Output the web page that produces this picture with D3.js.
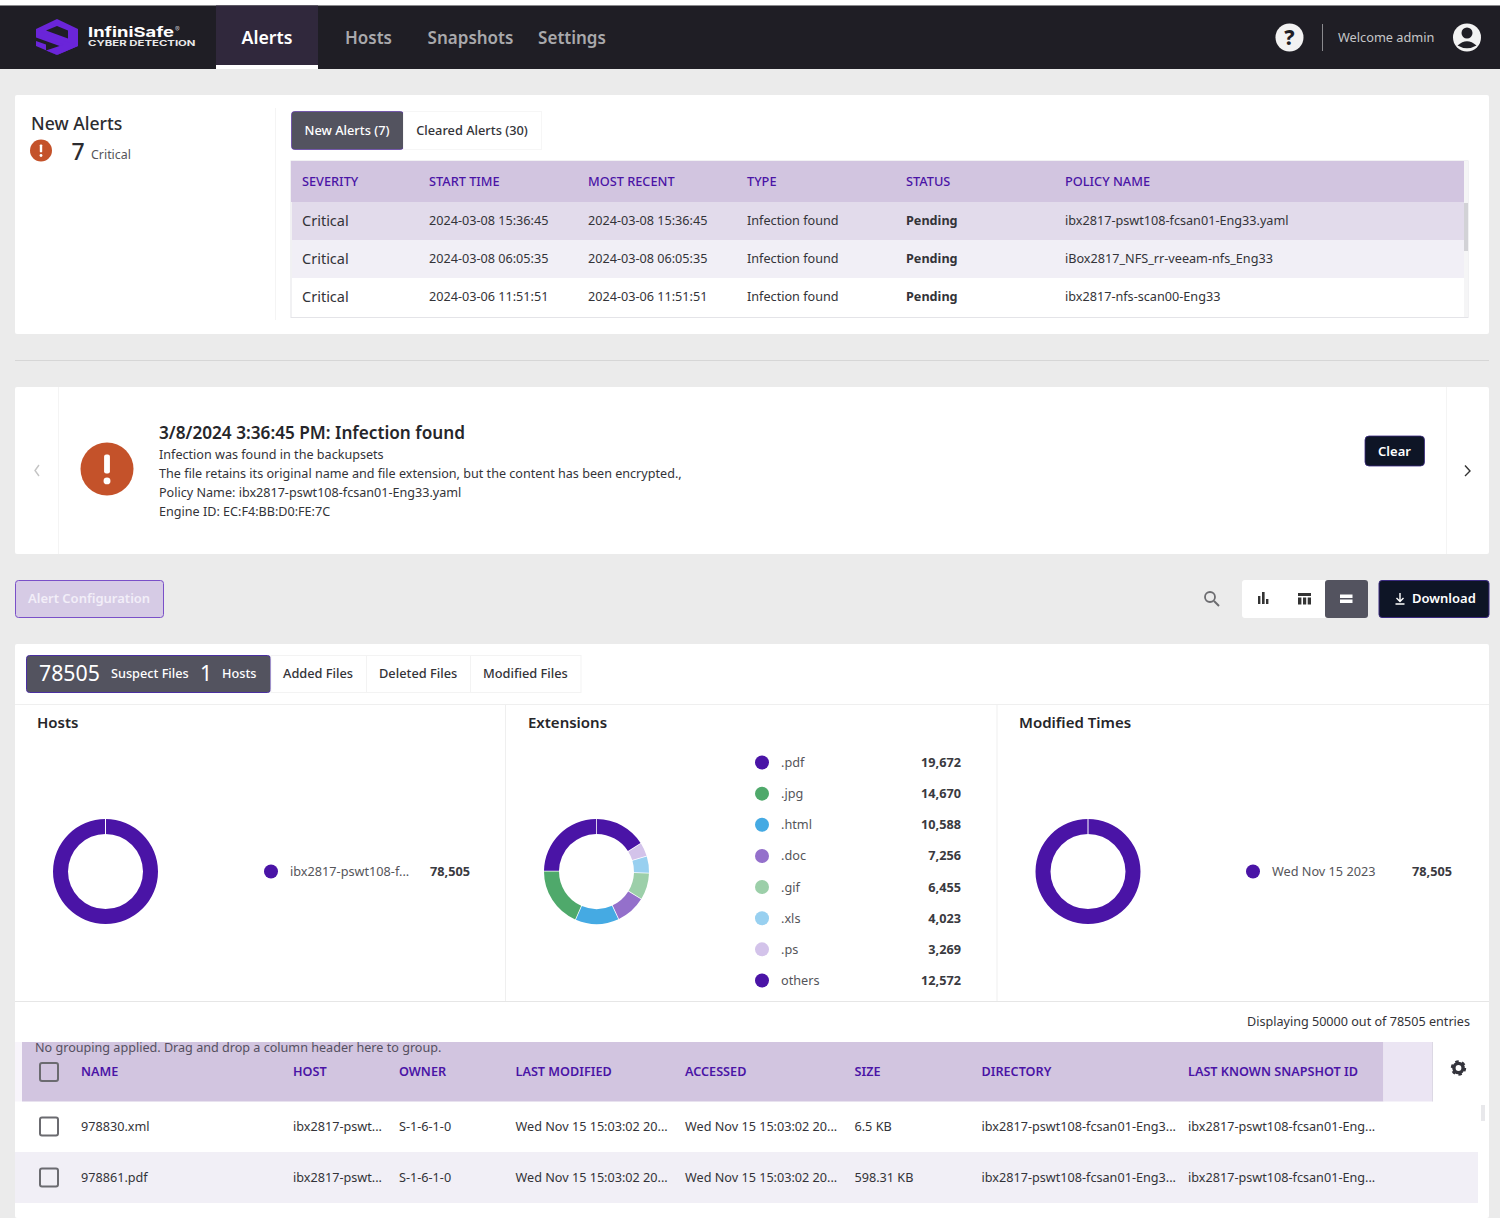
<!DOCTYPE html>
<html>
<head>
<meta charset="utf-8">
<script src="https://cdn.jsdelivr.net/npm/d3@7"></script>
<style>
html, body { margin: 0; padding: 0; background: #ebebeb; }
svg { display: block; font-family: "Noto Sans", "Open Sans", sans-serif; }
</style>
</head>
<body>
<svg id="page" width="1500" height="1218"></svg>
<script>
// nav
const navItems = ["Alerts", "Hosts", "Snapshots", "Settings"];

// alert table
const alertColumns = ["SEVERITY", "START TIME", "MOST RECENT", "TYPE", "STATUS", "POLICY NAME"];
const alertRows = [
  ["Critical", "2024-03-08 15:36:45", "2024-03-08 15:36:45", "Infection found", "Pending", "ibx2817-pswt108-fcsan01-Eng33.yaml"],
  ["Critical", "2024-03-08 06:05:35", "2024-03-08 06:05:35", "Infection found", "Pending", "iBox2817_NFS_rr-veeam-nfs_Eng33"],
  ["Critical", "2024-03-06 11:51:51", "2024-03-06 11:51:51", "Infection found", "Pending", "ibx2817-nfs-scan00-Eng33"]
];
const alertDetail = [
  "Infection was found in the backupsets",
  "The file retains its original name and file extension, but the content has been encrypted.,",
  "Policy Name: ibx2817-pswt108-fcsan01-Eng33.yaml",
  "Engine ID: EC:F4:BB:D0:FE:7C"
];

// donuts
const hostNames = ["ibx2817-pswt108-f..."];
const hostValues = [78505];
const extNames = [".pdf", ".jpg", ".html", ".doc", ".gif", ".xls", ".ps", "others"];
const extValues = [19672, 14670, 10588, 7256, 6455, 4023, 3269, 12572];
const timeNames = ["Wed Nov 15 2023"];
const timeValues = [78505];

// file table
const fileColumns = ["NAME", "HOST", "OWNER", "LAST MODIFIED", "ACCESSED", "SIZE", "DIRECTORY", "LAST KNOWN SNAPSHOT ID"];
const fileRows = [
  ["978830.xml", "ibx2817-pswt...", "S-1-6-1-0", "Wed Nov 15 15:03:02 20...", "Wed Nov 15 15:03:02 20...", "6.5 KB", "ibx2817-pswt108-fcsan01-Eng3...", "ibx2817-pswt108-fcsan01-Eng..."],
  ["978861.pdf", "ibx2817-pswt...", "S-1-6-1-0", "Wed Nov 15 15:03:02 20...", "Wed Nov 15 15:03:02 20...", "598.31 KB", "ibx2817-pswt108-fcsan01-Eng3...", "ibx2817-pswt108-fcsan01-Eng..."]
];

const PURPLE = "#4a14a6", INK = "#333338", HEAD = "#d2c5e0", SLATE = "#53535f";
const extColors = ["#4a14a6", "#4fa96b", "#45aae3", "#9470cb", "#9ccfa9", "#98d0f0", "#d3c3ea", "#4a14a6"];

const svg = d3.select("#page");

function rect(x, y, w, h, fill, r) {
  return svg.append("rect").attr("x", x).attr("y", y).attr("width", w).attr("height", h)
    .attr("fill", fill).attr("rx", r || 0);
}
function label(x, y, s, size, fill, weight, anchor) {
  return svg.append("text").attr("x", x).attr("y", y).attr("dy", "0.35em")
    .attr("font-size", size).attr("fill", fill || INK).attr("font-weight", weight || 400)
    .attr("text-anchor", anchor || "start").text(s);
}
function alertIcon(cx, cy, r) {
  svg.append("circle").attr("cx", cx).attr("cy", cy).attr("r", r).attr("fill", "#c4522a");
  rect(cx - r * 0.11, cy - r * 0.55, r * 0.22, r * 0.72, "#fff", r * 0.08);
  svg.append("circle").attr("cx", cx).attr("cy", cy + r * 0.45).attr("r", r * 0.13).attr("fill", "#fff");
}
function checkbox(x, y) {
  rect(x, y, 18, 18, "none", 2).attr("stroke", "#6b6b70").attr("stroke-width", 2);
}

// nav bar
rect(0, 0, 1500, 5.5, "#fff");
rect(0, 5.5, 1500, 63.5, "#1f1e25");
rect(216, 5.5, 102, 63.5, "#30283c");
rect(216, 65, 102, 4, "#fff");

const navX = d3.scaleOrdinal().domain(navItems).range([267, 368.5, 470.5, 572]);
svg.append("g").selectAll("text").data(navItems).join("text")
  .attr("x", d => navX(d)).attr("y", (d, i) => i === 0 ? 37.5 : 38.3).attr("dy", "0.35em").attr("text-anchor", "middle")
  .attr("font-size", (d, i) => i === 0 ? 17.7 : 17).attr("font-weight", 600)
  .attr("fill", (d, i) => i === 0 ? "#fff" : "#a9a9ac").text(d => d);

// logo
svg.append("path").attr("d", "M57 19 L78 29 L78 46 L57 55 L36 46 L36 29 Z").attr("fill", "#6a25d9");
svg.append("path").attr("d", "M46 30.5 L57 26 L68 30.5 L68 38.5 Z").attr("fill", "#1f1e25");
svg.append("path").attr("d", "M36 37.5 L68 49 L57 55 L46 50.5 L46 44.5 L36 41 Z").attr("fill", "#1f1e25");
svg.append("path").attr("d", "M36 30 L46 34 L78 46 L57 55 L46 50.5 L64 44.5 L36 36 Z").attr("fill", "#6a25d9");
label(88, 32.5, "InfiniSafe", 13.5, "#fff", 700).attr("font-family", "Inter")
  .attr("textLength", 86).attr("lengthAdjust", "spacingAndGlyphs");
label(175, 29.5, "®", 7, "#bdbdbd", 400).attr("font-family", "Inter");
label(88, 43.5, "CYBER DETECTION", 8, "#e8e8e8", 700).attr("font-family", "Inter")
  .attr("textLength", 107.5).attr("lengthAdjust", "spacingAndGlyphs");

// help, user
svg.append("circle").attr("cx", 1289.5).attr("cy", 37.5).attr("r", 14).attr("fill", "#f2f2f2");
label(1289.5, 37.5, "?", 21, "#1f1e25", 800, "middle");
rect(1322, 24, 1, 27, "#8a8a8e");
label(1338, 37.5, "Welcome admin", 12.75, "#c6c6c8");
svg.append("circle").attr("cx", 1467).attr("cy", 37.5).attr("r", 14).attr("fill", "#f2f2f2");
svg.append("circle").attr("cx", 1467).attr("cy", 33).attr("r", 5.5).attr("fill", "#1f1e25");
svg.append("path").attr("d", "M1457.5 45.5 Q1467 37 1476.5 45.5 Q1467 51 1457.5 45.5 Z").attr("fill", "#1f1e25");

// new alerts panel
rect(15, 95, 1474, 239, "#fff", 2);
rect(275, 108, 1, 212, "#f4f4f4");
label(31, 124, "New Alerts", 17.6, "#2c2c30", 500);
alertIcon(41, 150.5, 11);
label(71.5, 151.5, "7", 23, "#2c2c30", 500);
label(91, 154.5, "Critical", 12.4, "#55555a");

rect(291.5, 111.5, 112, 38, SLATE, 3).attr("stroke", "#5b35a8").attr("stroke-width", 0.7);
label(347, 130.5, "New Alerts (7)", 12.8, "#fff", 500, "middle");
rect(403.5, 111.5, 138, 38, "#fff").attr("stroke", "#f6f6f6");
label(472, 130.5, "Cleared Alerts (30)", 12.8, "#333338", 500, "middle");

rect(291, 161, 1177, 156.5, "#fff").attr("stroke", "#e4e4e8");
rect(291, 161, 1173, 41, HEAD);
const alertX = d3.scaleOrdinal().domain(alertColumns).range([302, 429, 588, 747, 906, 1065]);
svg.append("g").selectAll("text").data(alertColumns).join("text")
  .attr("x", d => alertX(d)).attr("y", 181.5).attr("dy", "0.35em")
  .attr("font-size", 12.75).attr("font-weight", 500).attr("fill", PURPLE).text(d => d);

const alertRowY = d3.scalePoint().domain(d3.range(alertRows.length)).range([221, 297]);
const alertRowFill = ["#e2dbeb", "#f1eff6", "#fff"];
svg.append("g").selectAll("rect").data(alertRows).join("rect")
  .attr("x", 292).attr("width", 1172).attr("height", 38)
  .attr("y", (d, i) => alertRowY(i) - 19).attr("fill", (d, i) => alertRowFill[i]);
alertRows.forEach((row, i) => {
  svg.append("g").selectAll("text").data(row).join("text")
    .attr("x", (d, j) => alertX(alertColumns[j])).attr("y", alertRowY(i)).attr("dy", "0.35em")
    .attr("font-size", (d, j) => j === 0 ? 14.5 : 12.65)
    .attr("font-weight", (d, j) => j === 4 ? 700 : 400)
    .attr("fill", INK).text(d => d);
});
// scrollbar
rect(1464, 161, 4, 156, "#f5f5f6");
rect(1464, 203, 4, 48, "#d2d2d6");

rect(15, 360, 1474, 1, "#d6d6d6");

// alert detail panel
rect(15, 387, 1474, 167, "#fff", 2);
rect(58, 387, 1, 167, "#f4f4f4");
rect(1446, 387, 1, 167, "#f4f4f4");
svg.append("path").attr("d", "M39 465 L35 470.5 L39 476").attr("fill", "none").attr("stroke", "#c4c4c4").attr("stroke-width", 1.4);
svg.append("path").attr("d", "M1465 465.5 L1470 471 L1465 476").attr("fill", "none").attr("stroke", "#333").attr("stroke-width", 1.4);
alertIcon(107, 469, 26.5);
label(159, 433, "3/8/2024 3:36:45 PM: Infection found", 17.2, "#26262a", 600);
const detailY = d3.scalePoint().domain(d3.range(alertDetail.length)).range([454.5, 511.5]);
svg.append("g").selectAll("text").data(alertDetail).join("text")
  .attr("x", 159).attr("y", (d, i) => detailY(i)).attr("dy", "0.35em")
  .attr("font-size", 12.6).attr("fill", INK).text(d => d);
rect(1365, 436, 59.5, 30, "#0e1526", 4).attr("stroke", "#3a2a80").attr("stroke-width", 0.8);
label(1394.5, 451, "Clear", 13, "#fff", 600, "middle");

// toolbar
rect(15.5, 580.5, 148, 37, "#d6cbe5", 3).attr("stroke", "#7a50c8");
label(28, 598.5, "Alert Configuration", 13, "#f2eef8", 600);
svg.append("circle").attr("cx", 1210).attr("cy", 597).attr("r", 5).attr("fill", "none").attr("stroke", "#6c6c70").attr("stroke-width", 1.8);
svg.append("path").attr("d", "M1214 601 L1219 606").attr("stroke", "#6c6c70").attr("stroke-width", 2);
rect(1242, 580, 126, 38, "#fff", 3);
rect(1325, 580, 43, 38, SLATE, 3);
rect(1258, 596, 2.4, 8, "#333");
rect(1262, 592, 2.6, 12, "#333");
rect(1266, 599, 2.4, 5, "#333");
rect(1298, 593, 13, 3, "#333");
rect(1298, 597.5, 3.4, 7, "#333");
rect(1303, 597.5, 3.2, 7, "#333");
rect(1307.7, 597.5, 3.3, 7, "#333");
rect(1340, 594.5, 12.5, 3.5, "#fff");
rect(1340, 599.5, 12.5, 3.5, "#fff");
rect(1379, 580.5, 110, 37, "#0e1526", 3).attr("stroke", "#3a2a80");
svg.append("path").attr("d", "M1400 593 L1400 601 M1396.5 598 L1400 601.5 L1403.5 598 M1395.5 604 L1404.5 604")
  .attr("fill", "none").attr("stroke", "#fff").attr("stroke-width", 1.4);
label(1412, 598.5, "Download", 13, "#fff", 600);

// suspect files panel
rect(15, 644, 1474, 574, "#fff", 2);
rect(15, 704, 1474, 1, "#efefef");
rect(505, 705, 1, 296, "#efefef");
rect(996.5, 705, 1, 296, "#efefef");
rect(15, 1001, 1474, 1, "#e6e6e6");

rect(26.5, 655.5, 244, 37, SLATE, 3).attr("stroke", "#4a2fa0");
label(39, 674, "78505", 21.3, "#fff", 400);
label(111, 673.5, "Suspect Files", 12.7, "#fff", 500);
label(200, 674, "1", 21.3, "#fff", 400);
label(222, 673.5, "Hosts", 12.7, "#fff", 500);
rect(271, 655.5, 310, 37, "#fff").attr("stroke", "#f3f3f3");
rect(366, 656, 1, 36, "#f3f3f3");
rect(470, 656, 1, 36, "#f3f3f3");
label(283, 673.5, "Added Files", 12.8, INK, 500);
label(379, 673.5, "Deleted Files", 12.8, INK, 500);
label(483, 673.5, "Modified Files", 12.8, INK, 500);

label(37, 723, "Hosts", 15, "#26262a", 600);
label(528, 723, "Extensions", 15, "#26262a", 600);
label(1019, 723, "Modified Times", 15, "#26262a", 600);

function donut(cx, cy, names, values, colors) {
  // clockwise from 12 o'clock, last entry first
  const pie = d3.pie().sort(null).padAngle(0.012)(values.slice().reverse());
  const arc = d3.arc().innerRadius(37.5).outerRadius(52.5);
  svg.append("g").attr("transform", `translate(${cx},${cy})`)
    .selectAll("path").data(pie).join("path")
    .attr("d", arc).attr("fill", (d, i) => colors[values.length - 1 - i]);
  if (values.length === 1) {
    rect(cx - 0.5, cy - 53, 1, 15.5, "#fff");
  }
}
function legend(dotX, nameX, valueX, yScale, names, values, colors) {
  const g = svg.append("g");
  g.selectAll("circle").data(names).join("circle")
    .attr("cx", dotX).attr("cy", (d, i) => yScale(i)).attr("r", 7).attr("fill", (d, i) => colors[i]);
  g.selectAll("text.name").data(names).join("text").attr("class", "name")
    .attr("x", nameX).attr("y", (d, i) => yScale(i)).attr("dy", "0.35em")
    .attr("font-size", 12.7).attr("fill", "#55555a").text(d => d);
  g.selectAll("text.value").data(values).join("text").attr("class", "value")
    .attr("x", valueX).attr("y", (d, i) => yScale(i)).attr("dy", "0.35em")
    .attr("text-anchor", "end").attr("font-size", 12.7).attr("font-weight", 700)
    .attr("fill", "#3a3a3f").text(d => d3.format(",")(d));
}
const oneY = () => 871.5;
donut(105.5, 871.5, hostNames, hostValues, [PURPLE]);
legend(271, 290, 470, oneY, hostNames, hostValues, [PURPLE]);
donut(596.5, 871.5, extNames, extValues, extColors);
const extY = d3.scalePoint().domain(d3.range(extNames.length)).range([762.5, 980.5]);
legend(762, 781, 961, extY, extNames, extValues, extColors);
donut(1088, 871.5, timeNames, timeValues, [PURPLE]);
legend(1253, 1272, 1452, oneY, timeNames, timeValues, [PURPLE]);

// file table
label(1470, 1022, "Displaying 50000 out of 78505 entries", 12.6, INK, 400, "end");
rect(15, 1042, 7, 59.5, "#f8f5fb");
rect(22, 1042, 1361.5, 59.5, HEAD);
rect(1383.5, 1042, 49, 59.5, "#ebe5f3");
rect(1432, 1042, 1, 59.5, "#dcd8e4");
label(35, 1047.5, "No grouping applied. Drag and drop a column header here to group.", 12.6, "#55505f");
checkbox(40, 1063);

const fileX = d3.scaleOrdinal().domain(fileColumns).range([81, 293, 399, 515.5, 685, 854.5, 981.5, 1188]);
svg.append("g").selectAll("text").data(fileColumns).join("text")
  .attr("x", d => fileX(d)).attr("y", 1072).attr("dy", "0.35em")
  .attr("font-size", 12.65).attr("font-weight", 600).attr("fill", PURPLE).text(d => d);

// gear
svg.append("circle").attr("cx", 1458.5).attr("cy", 1068).attr("r", 4.6)
  .attr("fill", "none").attr("stroke", "#34343c").attr("stroke-width", 3.4);
svg.append("circle").attr("cx", 1458.5).attr("cy", 1068).attr("r", 6.6)
  .attr("fill", "none").attr("stroke", "#34343c").attr("stroke-width", 2.2)
  .attr("stroke-dasharray", `${2 * Math.PI * 6.6 / 12} ${2 * Math.PI * 6.6 / 12}`);

const fileRowY = d3.scalePoint().domain(d3.range(fileRows.length)).range([1126.5, 1177.5]);
rect(15, 1152, 1463, 51, "#f1eff6");
fileRows.forEach((row, i) => {
  checkbox(40, fileRowY(i) - 9);
  svg.append("g").selectAll("text").data(row).join("text")
    .attr("x", (d, j) => fileX(fileColumns[j])).attr("y", fileRowY(i)).attr("dy", "0.35em")
    .attr("font-size", 12.65).attr("fill", INK).text(d => d);
});
rect(1481, 1105, 4, 16, "#e8e8eb");
</script>
</body>
</html>
